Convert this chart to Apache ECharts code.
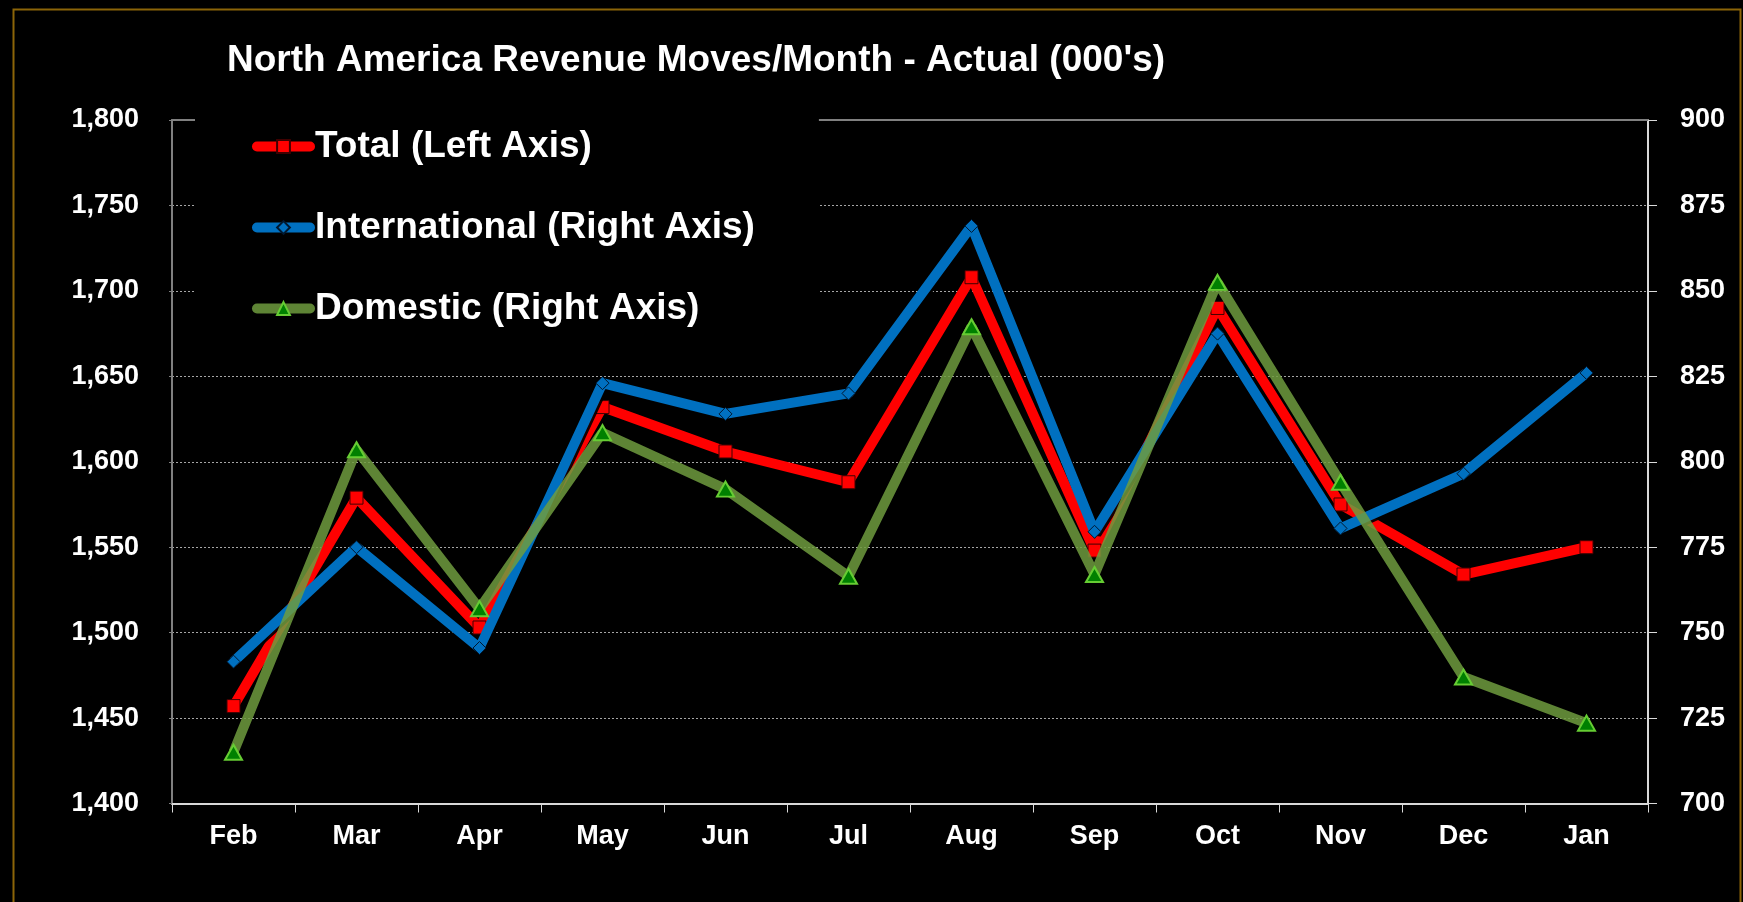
<!DOCTYPE html>
<html>
<head>
<meta charset="utf-8">
<title>North America Revenue Moves/Month</title>
<script src="https://cdn.jsdelivr.net/npm/echarts@6/dist/echarts.min.js"></script>
<style>
  html, body { margin: 0; padding: 0; background: #000; }
  #chart { width: 1743px; height: 902px; }
</style>
</head>
<body>
<div id="chart"></div>
<script>
// values
const months = ['Feb', 'Mar', 'Apr', 'May', 'Jun', 'Jul', 'Aug', 'Sep', 'Oct', 'Nov', 'Dec', 'Jan'];
const total = [1457, 1579, 1503, 1632, 1606, 1588, 1708, 1548, 1690, 1575, 1534, 1550];
const international = [741.5, 775, 745.5, 823, 814, 820, 869, 779.5, 837.5, 780.5, 796.5, 826];
const domestic = [715, 803.5, 757, 808.5, 792, 766.5, 839.5, 767, 852.5, 794, 737, 723.5];

const FONT = '"Liberation Sans", Arial, sans-serif';
const labelStyle = { color: '#fff', fontSize: 27, fontWeight: 'bold', fontFamily: FONT };

const chart = echarts.init(document.getElementById('chart'));
chart.setOption({
  backgroundColor: '#000',
  animation: false,
  title: {
    text: "North America Revenue Moves/Month - Actual (000's)",
    left: 227,
    top: 42,
    padding: 0,
    textStyle: { color: '#fff', fontSize: 37, fontWeight: 'bold', fontFamily: FONT }
  },
  legend: {
    orient: 'vertical',
    left: 195,
    top: 112,
    padding: [16, 64, 16, 57],
    backgroundColor: '#000',
    itemWidth: 53,
    itemHeight: 16,
    itemGap: 44,
    selectedMode: false,
    lineStyle: { width: 10, cap: 'round' },
    textStyle: { color: '#fff', fontSize: 37, fontWeight: 'bold', fontFamily: FONT, lineHeight: 37 },
    data: ['Total (Left Axis)', 'International (Right Axis)', 'Domestic (Right Axis)']
  },
  grid: { left: 172, right: 95, top: 120, bottom: 98.5 },
  xAxis: [
    {
      type: 'category',
      data: months,
      boundaryGap: true,
      axisLine: { lineStyle: { color: '#d9d9d9', width: 2 } },
      axisTick: { show: true, length: 9, lineStyle: { color: '#d9d9d9', width: 1 } },
      axisLabel: Object.assign({ margin: 20 }, labelStyle),
      splitLine: { show: false }
    },
    {
      type: 'category',
      data: months,
      position: 'top',
      axisLine: { lineStyle: { color: '#808080', width: 2 } },
      axisTick: { show: false },
      axisLabel: { show: false },
      splitLine: { show: false }
    }
  ],
  yAxis: [
    {
      type: 'value',
      min: 1400,
      max: 1800,
      interval: 50,
      axisLine: { show: true, lineStyle: { color: '#808080', width: 2 } },
      axisTick: { show: true, length: 3, lineStyle: { color: '#808080' } },
      axisLabel: Object.assign({
        margin: 33,
        formatter: v => v.toLocaleString('en-US')
      }, labelStyle),
      splitLine: { show: true, lineStyle: { color: '#a6a6a6', width: 1, type: [2, 2] } }
    },
    {
      type: 'value',
      min: 700,
      max: 900,
      interval: 25,
      position: 'right',
      axisLine: { show: true, lineStyle: { color: '#d9d9d9', width: 2 } },
      axisTick: { show: true, length: 9, lineStyle: { color: '#d9d9d9' } },
      axisLabel: Object.assign({ margin: 32 }, labelStyle),
      splitLine: { show: false }
    }
  ],
  series: [
    {
      name: 'Total (Left Axis)',
      type: 'line',
      yAxisIndex: 0,
      data: total,
      z: 2,
      symbol: 'rect',
      symbolSize: 13,
      lineStyle: { color: '#ff0000', width: 10, shadowColor: 'rgba(0,0,0,0.9)', shadowOffsetX: 2, shadowOffsetY: 2 },
      itemStyle: { color: '#ff0000', borderColor: '#400000', borderWidth: 1 }
    },
    {
      name: 'International (Right Axis)',
      type: 'line',
      yAxisIndex: 1,
      data: international,
      z: 3,
      symbol: 'diamond',
      symbolSize: 13,
      lineStyle: { color: '#0070c0', width: 10, shadowColor: 'rgba(0,0,0,0.9)', shadowOffsetX: 2, shadowOffsetY: 2 },
      itemStyle: { color: '#0070c0', borderColor: '#001830', borderWidth: 1 }
    },
    {
      name: 'Domestic (Right Axis)',
      type: 'line',
      yAxisIndex: 1,
      data: domestic,
      z: 4,
      symbol: 'triangle',
      symbolSize: [17, 15],
      lineStyle: { color: '#6e9b3e', width: 10, opacity: 0.85 },
      itemStyle: { color: '#008000', borderColor: '#66cc33', borderWidth: 2 }
    }
  ],
  graphic: [
    {
      type: 'rect',
      left: 11,
      top: 7,
      shape: { width: 1727, height: 910 },
      style: { fill: null, stroke: '#8b6508', lineWidth: 2 },
      silent: true
    }
  ]
});
</script>
</body>
</html>
